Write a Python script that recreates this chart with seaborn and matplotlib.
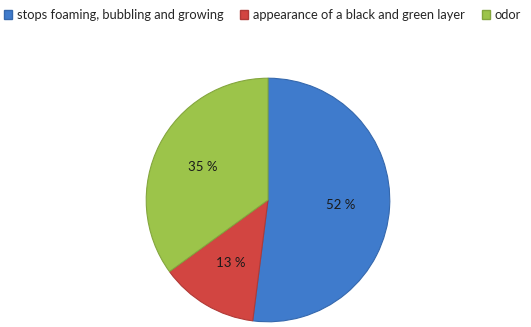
import matplotlib
matplotlib.use("Agg")
import matplotlib.pyplot as plt
from matplotlib.patches import Patch
import seaborn as sns

labels = ["stops foaming, bubbling and growing",
          "appearance of a black and green layer",
          "odor"]
shares = [52, 13, 35]
colors = ["#3f7bcc", "#d24541", "#9cc44a"]
edges = ["#3568ad", "#b03a37", "#84a63e"]

sns.set_theme(style="white")
plt.rcParams["font.family"] = ["Lato", "DejaVu Sans"]

fig = plt.figure(figsize=(5.31, 3.27), dpi=100)
# pie centred around (268, 200) px, radius ~123 px
ax = fig.add_axes([(268 - 123) / 531, (327 - 323) / 327, 246 / 531, 246 / 327])

wedges, texts, autotexts = ax.pie(
    shares, colors=colors, startangle=90, counterclock=False,
    autopct=lambda p: f"{p:.0f} %", pctdistance=0.6,
    wedgeprops=dict(linewidth=0.8),
    textprops=dict(fontsize=9.5, color="#1a1a1a"))
for w, e in zip(wedges, edges):
    w.set_edgecolor(e)
ax.set_xlim(-1.01, 1.01)
ax.set_ylim(-1.01, 1.01)
ax.set_aspect("equal")

handles = [Patch(facecolor=c, edgecolor=e, label=l)
           for c, e, l in zip(colors, edges, labels)]
fig.legend(handles=handles, loc="upper left",
           bbox_to_anchor=(4 / 531, 1 - 9 / 327),
           ncol=3, frameon=False, fontsize=9.3, handlelength=0.6,
           handleheight=0.6, handletextpad=0.4, columnspacing=1.3,
           borderpad=0, borderaxespad=0)

fig.savefig("out.png", dpi=100)
